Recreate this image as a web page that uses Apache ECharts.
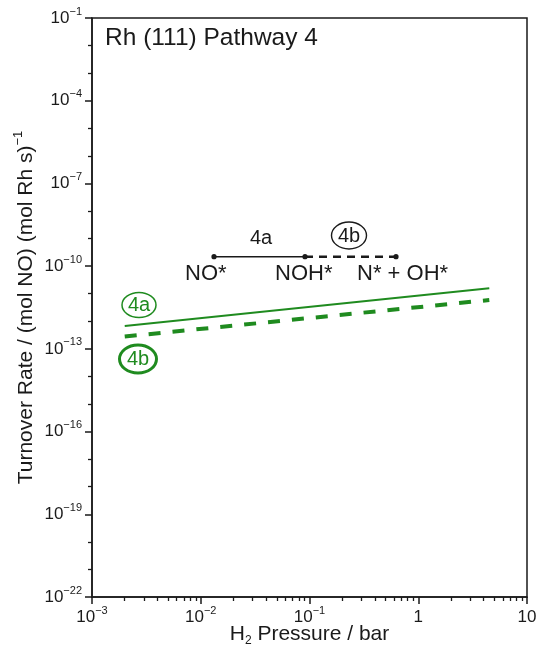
<!DOCTYPE html>
<html>
<head>
<meta charset="utf-8">
<script src="https://cdn.jsdelivr.net/npm/echarts@6/dist/echarts.min.js"></script>
<style>
  html, body { margin: 0; padding: 0; background: #fff; }
  #chart { width: 536px; height: 645px; }
</style>
</head>
<body>
<div id="chart"></div>
<script>
// H2 pressure (bar) at the ends of each rate line
const pressure = [0.002, 4.5];
// Turnover rate, (mol NO)(mol Rh s)^-1, for steps 4a and 4b
const rate4a = [6.8e-13, 1.58e-11];
const rate4b = [2.8e-13, 5.9e-12];
// Decade exponents used for tick labels
const xMajorExp = [-3, -2, -1, 0, 1];
const yMajorExp = [-22, -19, -16, -13, -10, -7, -4, -1];

const GREEN = '#1f8b1f';
const INK = '#1a1a1a';
const FONT = '"Liberation Sans", Arial, sans-serif';

// minor ticks: 2..9 inside each pressure decade, every decade on the rate axis
const xMinor = [];
for (let d = -3; d < 1; d++) for (let k = 2; k <= 9; k++) xMinor.push(d + Math.log10(k));
const yMinor = [];
for (let e = -22; e <= -1; e++) if (!yMajorExp.includes(e)) yMinor.push(e);

function powLabel(v) {
  const n = Math.round(v);
  if (n === 0) return '{b|1}';
  if (n === 1) return '{b|10}';
  return '{b|10}{s|\u2212' + (-n) + '}';
}
const tickRich = {
  b: { fontSize: 17, lineHeight: 24, fontFamily: FONT, color: INK },
  s: { fontSize: 11, lineHeight: 11, verticalAlign: 'top', fontFamily: FONT, color: INK }
};

const toPts = (xs, ys) => xs.map((x, i) => [Math.log10(x), Math.log10(ys[i])]);

const chart = echarts.init(document.getElementById('chart'), null, { renderer: 'canvas' });

const axisCommon = {
  type: 'value',
  splitLine: { show: false },
  nameMoveOverlap: false,
  axisLine: { show: true, onZero: false, lineStyle: { color: INK, width: 1.5 } }
};

chart.setOption({
  animation: false,
  backgroundColor: '#fff',
  grid: {
    left: 92, right: 9, top: 18, bottom: 48,
    containLabel: false, outerBoundsMode: 'none',
    show: true, borderColor: INK, borderWidth: 1.5, backgroundColor: 'transparent'
  },
  xAxis: [
    Object.assign({}, axisCommon, {
      min: -3, max: 1, position: 'bottom',
      name: 'H{sub|2} Pressure / bar',
      nameLocation: 'middle', nameGap: 24,
      nameTextStyle: {
        fontSize: 21, fontFamily: FONT, color: INK, lineHeight: 26,
        rich: { sub: { fontSize: 12, lineHeight: 12, verticalAlign: 'bottom', fontFamily: FONT, color: INK } }
      },
      axisTick: { show: true, customValues: xMajorExp, length: 7, lineStyle: { color: INK, width: 1.5 } },
      axisLabel: { customValues: xMajorExp, margin: 8, formatter: powLabel, rich: tickRich }
    }),
    Object.assign({}, axisCommon, {
      min: -3, max: 1, position: 'bottom',
      axisLine: { show: false, onZero: false },
      axisTick: { show: true, customValues: xMinor, length: 4, lineStyle: { color: INK, width: 1.3 } },
      axisLabel: { show: false }
    })
  ],
  yAxis: [
    Object.assign({}, axisCommon, {
      min: -22, max: -1, position: 'left',
      name: 'Turnover Rate / (mol NO) (mol Rh s){s|\u22121}',
      nameLocation: 'middle', nameGap: 52, nameRotate: 90,
      nameTextStyle: {
        fontSize: 21, fontFamily: FONT, color: INK, lineHeight: 28,
        rich: { s: { fontSize: 13, lineHeight: 13, verticalAlign: 'top', fontFamily: FONT, color: INK } }
      },
      axisTick: { show: true, customValues: yMajorExp, length: 7, lineStyle: { color: INK, width: 1.5 } },
      axisLabel: { customValues: yMajorExp, margin: 10, formatter: powLabel, rich: tickRich }
    }),
    Object.assign({}, axisCommon, {
      min: -22, max: -1, position: 'left',
      axisLine: { show: false, onZero: false },
      axisTick: { show: true, customValues: yMinor, length: 4, lineStyle: { color: INK, width: 1.3 } },
      axisLabel: { show: false }
    })
  ],
  series: [
    {
      name: '4a', type: 'line', xAxisIndex: 0, yAxisIndex: 0,
      data: toPts(pressure, rate4a), symbol: 'none',
      lineStyle: { color: GREEN, width: 2 }
    },
    {
      name: '4b', type: 'line', xAxisIndex: 0, yAxisIndex: 0,
      data: toPts(pressure, rate4b), symbol: 'none',
      lineStyle: { color: GREEN, width: 4, type: [12, 12], cap: 'butt' }
    }
  ],
  graphic: [
    { type: 'text', style: { x: 105, y: 38.5, text: 'Rh (111) Pathway 4', fontSize: 24.5, fontFamily: FONT, fill: INK, align: 'left', verticalAlign: 'middle' } },

    // reaction scheme: NO* --4a--> NOH* --4b--> N* + OH*
    { type: 'line', shape: { x1: 214, y1: 256.7, x2: 305, y2: 256.7 }, style: { stroke: INK, lineWidth: 1.5 } },
    { type: 'line', shape: { x1: 305, y1: 256.7, x2: 396, y2: 256.7 }, style: { stroke: INK, lineWidth: 2.5, lineDash: [8, 6] } },
    { type: 'circle', shape: { cx: 214, cy: 256.7, r: 2.6 }, style: { fill: INK } },
    { type: 'circle', shape: { cx: 305, cy: 256.7, r: 2.6 }, style: { fill: INK } },
    { type: 'circle', shape: { cx: 396, cy: 256.7, r: 2.6 }, style: { fill: INK } },
    { type: 'text', style: { x: 261, y: 238, text: '4a', fontSize: 20, fontFamily: FONT, fill: INK, align: 'center', verticalAlign: 'middle' } },
    { type: 'ellipse', shape: { cx: 349, cy: 235.5, rx: 17.5, ry: 13.5 }, style: { fill: 'none', stroke: INK, lineWidth: 1.4 } },
    { type: 'text', style: { x: 349, y: 236, text: '4b', fontSize: 20, fontFamily: FONT, fill: INK, align: 'center', verticalAlign: 'middle' } },
    { type: 'text', style: { x: 185, y: 274, text: 'NO*', fontSize: 22, fontFamily: FONT, fill: INK, align: 'left', verticalAlign: 'middle' } },
    { type: 'text', style: { x: 275, y: 274, text: 'NOH*', fontSize: 22, fontFamily: FONT, fill: INK, align: 'left', verticalAlign: 'middle' } },
    { type: 'text', style: { x: 357, y: 274, text: 'N* + OH*', fontSize: 22, fontFamily: FONT, fill: INK, align: 'left', verticalAlign: 'middle' } },

    // line tags
    { type: 'ellipse', shape: { cx: 139, cy: 305, rx: 17, ry: 12.5 }, style: { fill: 'none', stroke: GREEN, lineWidth: 1.5 } },
    { type: 'text', style: { x: 139, y: 305.5, text: '4a', fontSize: 20, fontFamily: FONT, fill: GREEN, align: 'center', verticalAlign: 'middle' } },
    { type: 'ellipse', shape: { cx: 138, cy: 359, rx: 18.5, ry: 14 }, style: { fill: 'none', stroke: GREEN, lineWidth: 3 } },
    { type: 'text', style: { x: 138, y: 359.5, text: '4b', fontSize: 20, fontFamily: FONT, fill: GREEN, align: 'center', verticalAlign: 'middle' } }
  ]
});
</script>
</body>
</html>
